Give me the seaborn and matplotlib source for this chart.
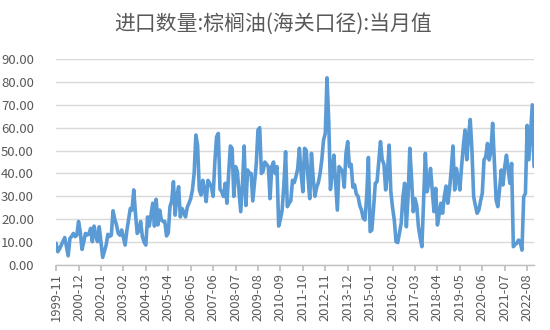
import numpy as np
import pandas as pd
import matplotlib
matplotlib.use("Agg")
import matplotlib.pyplot as plt
import seaborn as sns

title = "进口数量:棕榈油(海关口径):当月值"
start_month = "1999-11"

v1999 = [9.5, 5.8]
v2000 = [7.0, 8.7, 10.5, 12.0, 8.0, 4.0, 11.6, 12.5, 13.8, 12.4, 13.0, 19.0]
v2001 = [14.6, 6.8, 10.0, 13.8, 13.1, 13.5, 16.0, 10.2, 17.0, 13.0, 10.2, 16.7]
v2002 = [10.0, 3.3, 6.0, 8.7, 13.4, 12.5, 13.0, 23.7, 20.0, 17.5, 13.8, 13.0]
v2003 = [15.3, 12.0, 8.7, 15.0, 20.0, 24.7, 24.0, 32.8, 22.6, 13.8, 15.0, 19.0]
v2004 = [12.4, 10.0, 8.7, 21.0, 17.0, 22.0, 27.0, 17.0, 28.7, 17.5, 24.0, 19.7]
v2005 = [19.0, 19.0, 12.7, 14.0, 25.5, 28.0, 36.4, 21.8, 30.0, 34.2, 21.0, 24.7]
v2006 = [23.0, 21.0, 25.2, 27.0, 29.0, 32.8, 40.0, 56.8, 52.4, 32.8, 30.6, 37.0]
v2007 = [33.0, 27.7, 37.0, 35.7, 34.0, 30.0, 45.0, 56.0, 57.5, 33.0, 32.0, 30.0]
v2008 = [35.7, 27.0, 40.0, 52.0, 51.0, 30.0, 43.0, 41.0, 32.0, 23.3, 35.0, 52.0]
v2009 = [26.0, 41.5, 40.0, 40.0, 28.0, 36.0, 44.0, 59.0, 60.0, 40.0, 41.0, 45.0]
v2010 = [44.0, 43.0, 29.0, 43.0, 45.0, 40.0, 43.0, 17.0, 20.0, 24.0, 35.0, 49.5]
v2011 = [25.5, 27.0, 28.0, 37.0, 36.0, 38.6, 42.0, 51.0, 40.0, 32.0, 51.0, 50.0]
v2012 = [38.0, 29.0, 48.8, 38.0, 30.0, 34.0, 36.0, 40.0, 46.0, 54.6, 57.5, 81.8]
v2013 = [63.0, 33.0, 40.0, 48.0, 35.7, 24.0, 43.0, 42.0, 40.8, 34.0, 48.8, 53.9]
v2014 = [43.0, 44.0, 34.0, 35.0, 31.0, 30.0, 26.0, 24.0, 20.4, 19.7, 30.0, 47.0]
v2015 = [14.6, 15.3, 25.0, 35.7, 36.4, 45.0, 53.9, 46.0, 44.0, 32.8, 40.0, 52.4]
v2016 = [32.0, 25.0, 19.7, 10.2, 9.8, 14.0, 18.2, 29.8, 35.7, 16.7, 30.0, 51.0]
v2017 = [38.0, 23.3, 29.0, 26.0, 16.7, 12.0, 8.0, 28.0, 48.8, 32.0, 36.0, 42.2]
v2018 = [33.0, 23.3, 33.5, 17.5, 22.0, 27.0, 22.6, 30.0, 34.5, 27.0, 33.0, 41.5]
v2019 = [52.0, 32.8, 42.2, 38.0, 32.8, 43.0, 52.0, 59.0, 46.0, 56.3, 63.6, 50.2]
v2020 = [29.8, 26.0, 22.6, 24.0, 28.0, 31.3, 45.9, 47.3, 53.1, 45.9, 50.0, 61.9]
v2021 = [45.0, 28.4, 25.5, 33.0, 41.5, 35.0, 43.0, 48.0, 42.0, 35.7, 44.4, 8.0]
v2022 = [9.0, 9.5, 10.9, 10.0, 6.5, 29.8, 31.3, 61.0, 46.0, 58.0, 70.0, 43.0]

values = (v1999 + v2000 + v2001 + v2002 + v2003 + v2004 + v2005 + v2006 + v2007
          + v2008 + v2009 + v2010 + v2011 + v2012 + v2013 + v2014 + v2015 + v2016
          + v2017 + v2018 + v2019 + v2020 + v2021 + v2022)
months = pd.period_range(start_month, periods=len(values), freq="M").strftime("%Y-%m").tolist()
df = pd.DataFrame({"idx": np.arange(len(values)), "month": months, "value": values})

sns.set_theme(style="white")
plt.rcParams["font.family"] = ["Noto Sans CJK SC", "DejaVu Sans"]

fig = plt.figure(figsize=(5.5, 3.3), dpi=100)
ax = fig.add_axes([0.102, 0.197, 0.869, 0.624])

sns.lineplot(data=df, x="idx", y="value", ax=ax, color="#5B9BD5", linewidth=2.6)

ax.set_ylim(0, 90)
ax.set_xlim(0, len(values) - 1)
ax.set_yticks(np.arange(0, 91, 10))
ax.set_yticklabels([f"{v:.2f}" for v in np.arange(0, 91, 10)])
tick_pos = list(range(0, len(values), 13))
ax.set_xticks(tick_pos)
ax.set_xticklabels([months[i] for i in tick_pos], rotation=90)

ax.grid(axis="y", color="#D9D9D9", linewidth=1.0)
ax.set_axisbelow(True)
for s in ["left", "right", "top"]:
    ax.spines[s].set_visible(False)
ax.spines["bottom"].set_color("#BFBFBF")
ax.spines["bottom"].set_linewidth(1.0)
ax.tick_params(axis="x", bottom=True, length=4, color="#BFBFBF", labelsize=9.3,
               labelcolor="#595959", pad=2)
ax.tick_params(axis="y", left=False, labelsize=9.5, labelcolor="#595959", pad=10)
ax.set_xlabel("")
ax.set_ylabel("")

fig.text(0.497, 0.927, title, ha="center", va="center", fontsize=15,
         color="#595959", fontweight="light")

fig.savefig("out.png", dpi=100)
